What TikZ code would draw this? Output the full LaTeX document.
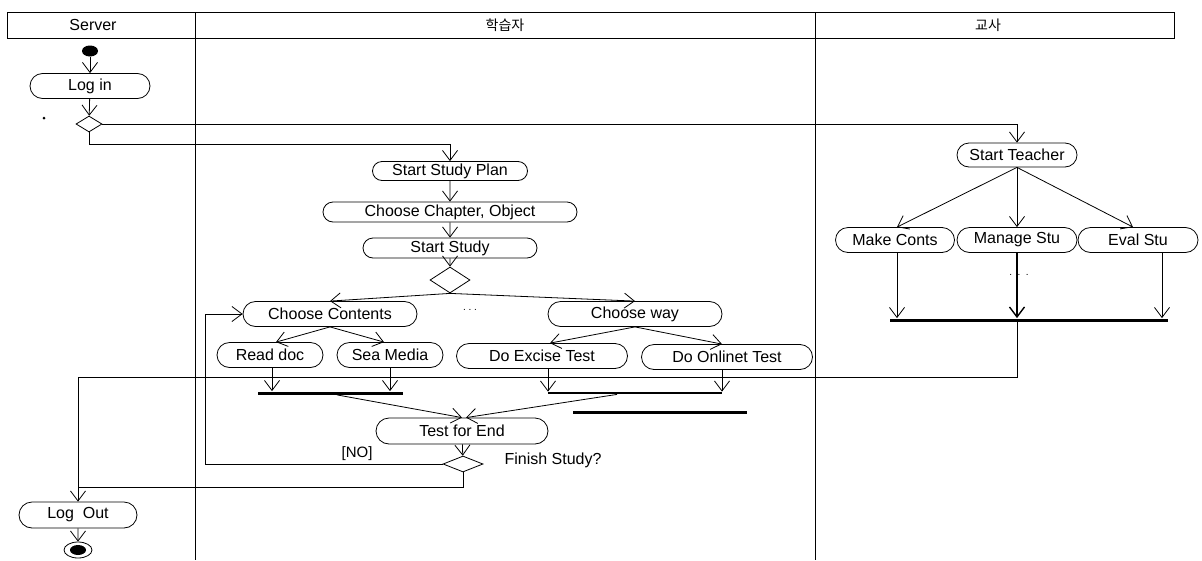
\documentclass[tikz,border=0pt]{standalone}
\usepackage{fontspec}
\setmainfont{Liberation Sans}
\newfontfamily\krfont{Noto Sans CJK KR}
\usetikzlibrary{shapes.misc,shapes.geometric,arrows.meta}

\begin{document}
\begin{tikzpicture}[x=1pt,y=-1pt,line width=0.8pt,
	act/.style={draw,rounded rectangle,inner sep=0pt,minimum height=25pt,font=\fontsize{16}{18}\selectfont},
	dec/.style={draw,diamond,inner sep=0pt,minimum width=26pt,minimum height=16pt},
	bar/.style={fill,rectangle,inner sep=0pt,minimum height=3pt},
	>={Straight Barb[length=10pt,width=15pt]}]
	\useasboundingbox (0,0) rectangle (1202,560);
	% lanes
	\draw (7,12) rectangle (1174,38);
	\draw (195,12) -- (195,560);
	\draw (815,12) -- (815,560);
	\node[font=\fontsize{16}{18}\selectfont] at (93,25) (srv) {Server};
	\node[font=\fontsize{14}{16}\krfont] at (505,25) (lrn) {학습자};
	\node[font=\fontsize{14}{16}\krfont] at (988,25) (tch) {교사};
	% server
	\node[fill,ellipse,inner sep=0pt,minimum width=16pt,minimum height=11pt] at (90,51) (start) {};
	\node[act,minimum width=120pt] at (90,86) (login) {Log in};
	\node[dec] at (89,124) (d1) {};
	\fill (44,118) circle (1.5pt);
	\node[act,minimum width=118pt,minimum height=26pt] at (78,515) (logout) {Log\ \ Out};
	\node[draw,ellipse,inner sep=0pt,minimum width=28pt,minimum height=16pt] at (78,550) (stop) {};
	\node[fill,ellipse,inner sep=0pt,minimum width=16pt,minimum height=10pt] at (stop) (stopin) {};
	% learner
	\node[act,minimum width=155pt,minimum height=19pt] at (450,171) (ssp) {Start Study Plan};
	\node[act,minimum width=254pt,minimum height=20pt] at (450,212) (cco) {Choose Chapter, Object};
	\node[act,minimum width=174pt,minimum height=20pt] at (450,248) (ss) {Start Study};
	\node[dec,minimum width=40pt,minimum height=26pt] at (450,280) (d2) {};
	\node[act,minimum width=174pt] at (330,314) (cc) {Choose Contents};
	\node at (470,310) (dots1) {.\ .\ .};
	\node[act,minimum width=174pt] at (635,314) (cw) {Choose way};
	\node[act,minimum width=106pt] at (270,355) (rd) {Read doc};
	\node[act,minimum width=106pt] at (390,355) (sm) {Sea Media};
	\node[act,minimum width=171pt] at (542,356) (dx) {Do Excise Test};
	\node[act,minimum width=171pt] at (727,357) (don) {Do Onlinet Test};
	\node[bar,minimum width=145pt] at (330,393) (jl) {};
	\node[bar,minimum width=174pt,minimum height=2pt] at (635,393) (jr) {};
	\node[bar,minimum width=174pt] at (660,412) (jx) {};
	\node[act,minimum width=172pt,minimum height=26pt] at (462,431) (te) {Test for End};
	\node[dec,minimum width=40pt] at (463,464) (d3) {};
	\node[font=\fontsize{16}{18}\selectfont] at (553,460) (fs) {Finish Study?};
	% teacher
	\node[act,minimum width=120pt,minimum height=24pt] at (1017,155) (st) {Start Teacher};
	\node[act,minimum width=119pt] at (895,240) (mc) {Make Conts};
	\node[act,minimum width=120pt] at (1017,240) (ms) {Manage Stu};
	\node[act,minimum width=120pt] at (1138,240) (es) {Eval Stu};
	\node at (1019,275) (dots2) {.\ \ .\ \ .};
	\node[bar,minimum width=278pt] at (1029,320) (jt) {};
	\coordinate (c1) at (450,144);
	\coordinate (c2) at (205,464);
	\coordinate (c3) at (78,377);
	\coordinate (c4) at (78,487);
	\coordinate (esout) at ([xshift=24pt]es.south);
	% flows
	\draw [->] (start) -- (login);
	\draw [->] (login) -- (d1);
	\draw [->] (d1.east) -| (st.north);
	\draw [->] (d1.south) |- (c1) -- (ssp.north);
	\draw [->] (ssp) -- (cco);
	\draw [->] (cco) -- (ss);
	\draw [->] (ss) -- (d2);
	\draw [->] (d2.south) -- (cc.north);
	\draw [->] (d2.south) -- (cw.north);
	\draw [->] (cc.south) -- ([xshift=6pt]rd.north);
	\draw [->] (cc.south) -- ([xshift=-6pt]sm.north);
	\draw [->] (cw.south) -- ([xshift=8pt]dx.north);
	\draw [->] (cw.south) -- ([xshift=-5pt]don.north);
	\draw [->] ([xshift=2pt]rd.south) -- ([xshift=2pt]rd.south |- jl.north);
	\draw [->] (sm.south) -- (sm.south |- jl.north);
	\draw [->] ([xshift=6pt]dx.south) -- ([xshift=6pt]dx.south |- jr.north);
	\draw [->] ([xshift=-5pt]don.south) -- ([xshift=-5pt]don.south |- jr.north);
	\draw [->] ([xshift=7pt]jl.south) -- (te.north);
	\draw [->] ([xshift=-18pt]jr.south) -- ([xshift=4pt]te.north);
	\draw [->] (te) -- (d3);
	\draw [->] (d3.west) -- (c2) node[pos=0.36,above,font=\fontsize{15}{17}\selectfont] {[NO]} |- (cc.west);
	\draw (d3.south) |- (c4);
	\draw [->] (st.south) -- ([xshift=2pt]mc.north);
	\draw [->] (st.south) -- (ms.north);
	\draw [->] (st.south) -- ([xshift=-5pt]es.north);
	\draw [->] ([xshift=2pt]mc.south) -- ([xshift=2pt]mc.south |- jt.north);
	\draw [->,line width=1.4pt] (ms.south) -- (ms.south |- jt.north);
	\draw [->] (esout) -- (esout |- jt.north);
	\draw [->] (ms.south |- jt.south) |- (c3) -- (logout.north);
	\draw [->] (logout) -- (stop);
\end{tikzpicture}
\end{document}
